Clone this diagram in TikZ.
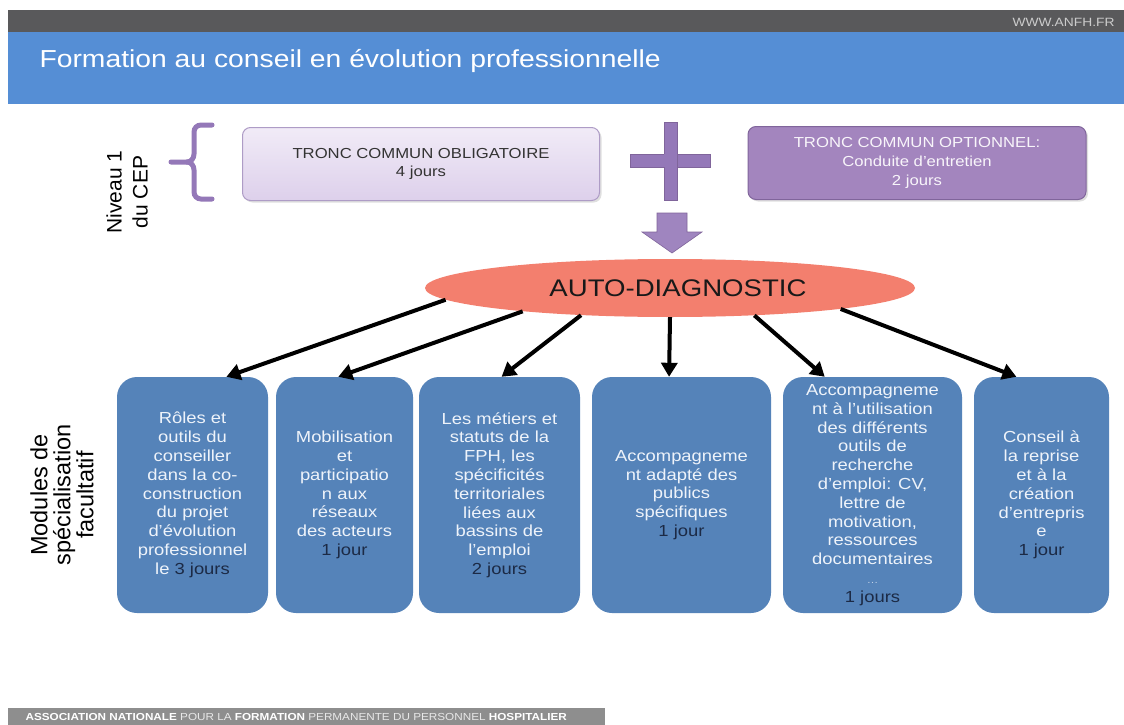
\documentclass[tikz,border=0pt]{standalone}
\usepackage{fontspec}
\setmainfont[FakeStretch=1.15]{Liberation Sans}
\newfontfamily\rotfont{Liberation Sans}
\usetikzlibrary{arrows.meta, positioning, shapes.geometric, shadows}
\definecolor{bardark}{HTML}{59595B}
\definecolor{bandblue}{HTML}{558ED5}
\definecolor{lilactop}{HTML}{F1EBF7}
\definecolor{lilacbot}{HTML}{DDD0EB}
\definecolor{lilacline}{HTML}{AE9CC6}
\definecolor{violet}{HTML}{A385BE}
\definecolor{violetline}{HTML}{80659B}
\definecolor{plum}{HTML}{9478B8}
\definecolor{salmon}{HTML}{F37F6E}
\definecolor{modblue}{HTML}{5583B9}
\definecolor{modtext}{HTML}{EEF3FA}
\definecolor{jourcol}{HTML}{1C2A45}
\definecolor{footgray}{HTML}{8E8E8E}
\newcommand{\jr}[1]{\textcolor{jourcol}{#1}}

\begin{document}
\begin{tikzpicture}[x=1pt, y=-1pt, >={Triangle[length=14pt,width=16pt]},
  modbox/.style={rectangle, rounded corners=20pt, fill=modblue, text=modtext,
    minimum height=236pt, align=center, inner sep=2pt,
    font=\fontsize{16}{18.8}\selectfont},
  topbox/.style={rectangle, rounded corners=8pt, minimum height=73pt,
    align=center, line width=1pt,
    drop shadow={opacity=0.25, shadow xshift=2pt, shadow yshift=-2pt}},
  link/.style={->, line width=4pt, black}]
  \useasboundingbox[fill=white] (0,0) rectangle (1124,725);
  % Header
  \fill[bardark] (8,10) rectangle (1124,32);
  \fill[bandblue] (8,32) rectangle (1124,104);
  \node[anchor=east, text=black!20, font=\fontsize{12}{14}\selectfont] (www) at (1118,22) {WWW.ANFH.FR};
  \node[anchor=west, text=white, font=\fontsize{24.6}{28}\selectfont] (title) at (36,61) {Formation au conseil en évolution professionnelle};
  % Niveau 1
  \node[rotate=90, align=center, font=\rotfont\fontsize{21}{26}\selectfont] (niveau) at (127,192) {Niveau 1\\du CEP};
  \draw[plum, line width=5pt, line cap=round]
    (212,125) -- (201,125) to[out=180,in=90] (194,132) -- (194,154)
    to[out=270,in=0] (187,162) -- (171,162);
  \draw[plum, line width=5pt, line cap=round]
    (187,162) to[out=0,in=90] (194,170) -- (194,192)
    to[out=270,in=180] (201,199) -- (212,199);
  \node[topbox, top color=lilactop, bottom color=lilacbot, draw=lilacline,
    text=black!80, minimum width=357pt, font=\fontsize{14.5}{18}\selectfont]
    (oblig) at (421,164) {TRONC COMMUN OBLIGATOIRE\\4 jours};
  \node[topbox, fill=violet, draw=violetline, text=white!92!violet,
    minimum width=338pt, font=\fontsize{14.5}{19}\selectfont]
    (option) at (917,163) {TRONC COMMUN OPTIONNEL:\\Conduite d'entretien\\2 jours};
  % Plus and down arrow
  \filldraw[fill=plum, draw=violetline, line width=0.6pt] (630,154) rectangle (710,167);
  \filldraw[fill=plum, draw=violetline, line width=0.6pt] (664,122) rectangle (677,200);
  \fill[plum] (664.3,154.3) rectangle (676.7,166.7);
  \filldraw[fill=plum!90!white, draw=violetline, line width=0.6pt]
    (657,213) -- (687,213) -- (687,232) -- (702,232) -- (672,253)
    -- (642,232) -- (657,232) -- cycle;
  % Auto-diagnostic
  \node[ellipse, fill=salmon, minimum width=490pt, minimum height=58pt, inner sep=0pt] (auto) at (670,288) {};
  \node[font=\fontsize{24}{28}\selectfont, text=black!90] (autotext) at (678,288) {AUTO-DIAGNOSTIC};
  % Modules
  \node[rotate=90, align=center, font=\rotfont\fontsize{23.5}{23}\selectfont] (modules) at (62,495) {Modules de\\spécialisation\\facultatif};
  \node[modbox, minimum width=151pt] (m1) at (192.5,495) {Rôles et\\outils du\\conseiller\\dans la co-\\construction\\du projet\\d'évolution\\professionnel\\le \jr{3 jours}};
  \node[modbox, minimum width=137pt] (m2) at (344.5,495) {Mobilisation\\et\\participatio\\n aux\\réseaux\\des acteurs\\\jr{1 jour}};
  \node[modbox, minimum width=161pt] (m3) at (499.5,495) {Les métiers et\\statuts de la\\FPH, les\\spécificités\\territoriales\\liées aux\\bassins de\\l'emploi\\\jr{2 jours}};
  \node[modbox, minimum width=179pt] (m4) at (681.5,495) {Accompagneme\\nt adapté des\\publics\\spécifiques\\\jr{1 jour}};
  \node[modbox, minimum width=179pt] (m5) at (872.5,495) {Accompagneme\\nt à l'utilisation\\des différents\\outils de\\recherche\\d'emploi: CV,\\lettre de\\motivation,\\ressources\\documentaires\\{\fontsize{10}{18.8}\selectfont\textcolor{modtext!70!modblue}{\dots}}\\\jr{1 jours}};
  \node[modbox, minimum width=135pt] (m6) at (1041.5,495) {Conseil à\\la reprise\\et à la\\création\\d'entrepris\\e\\\jr{1 jour}};
  % Edges from the ellipse
  \foreach \ang/\dst/\tip in {183/m1/74, 189/m2/93, 197/m3/89, 270/m4/96, 342/m5/112, 353/m6/102}
    {\draw[link] (auto.\ang) -- (\dst.\tip);}
  % Footer
  \fill[footgray] (8,708) rectangle (605,725);
  \node[anchor=west, text=white, font=\fontsize{10.2}{12}\selectfont] (footer) at (22,716.5)
    {\textbf{ASSOCIATION NATIONALE} \textcolor{white!80!footgray}{POUR LA} \textbf{FORMATION} \textcolor{white!80!footgray}{PERMANENTE DU PERSONNEL} \textbf{HOSPITALIER}};
\end{tikzpicture}
\end{document}
